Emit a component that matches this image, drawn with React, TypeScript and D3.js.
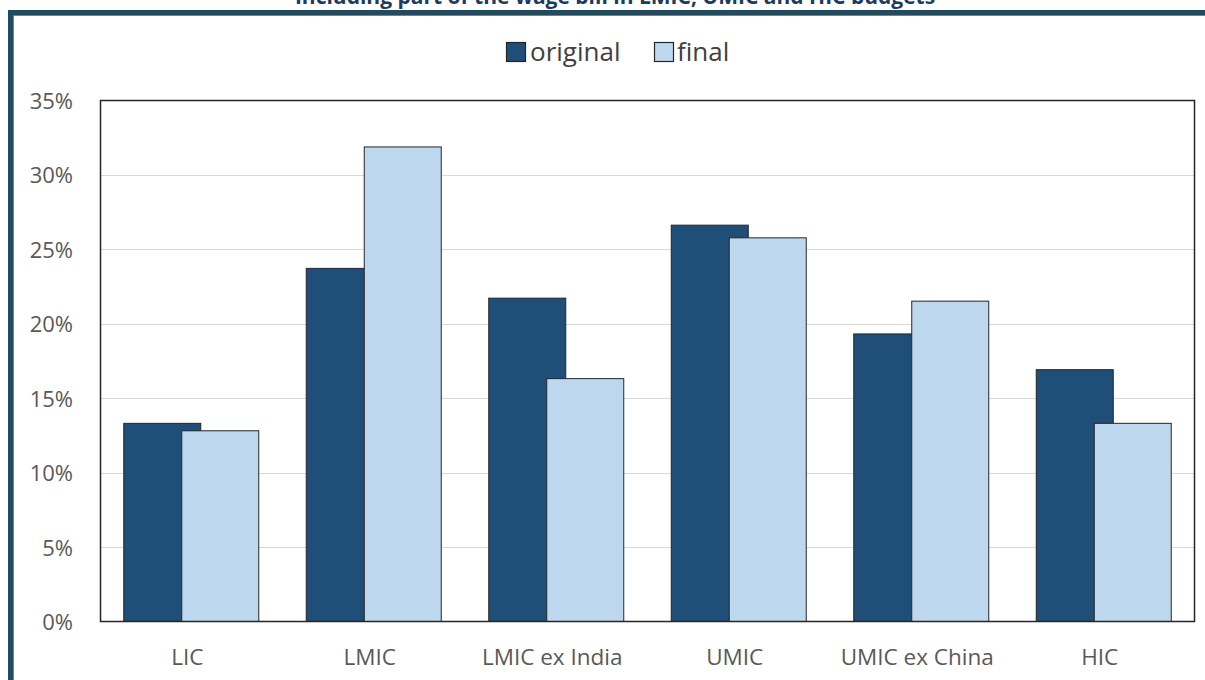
import React, { useEffect, useRef } from 'react';
import * as d3 from 'd3';

const categories = ['LIC', 'LMIC', 'LMIC ex India', 'UMIC', 'UMIC ex China', 'HIC'];
const original = [13.3, 23.7, 21.7, 26.6, 19.3, 16.9];
const final = [12.8, 31.85, 16.3, 25.75, 21.5, 13.3];
const yTicks = [0, 5, 10, 15, 20, 25, 30, 35];
const seriesNames = ['original', 'final'];
const seriesColors = ['#1f4e79', '#bdd7ee'];

const App = () => {
  const svgRef = useRef<SVGSVGElement>(null);

  useEffect(() => {
    const width = 1205;
    const height = 680;
    const margin = { top: 100, right: 10, bottom: 58, left: 100 };
    const font = "'Open Sans', 'Liberation Sans', sans-serif";

    const svg = d3.select(svgRef.current);
    svg.selectAll('*').remove();
    svg.attr('width', width).attr('height', height);

    // cadre
    svg.append('rect').attr('x', 13).attr('y', 15).attr('width', width).attr('height', height)
      .attr('fill', 'none').attr('stroke', '#7f7f7f').attr('stroke-width', 2);
    svg.append('rect').attr('x', 10.5).attr('y', 12.5).attr('width', width).attr('height', height)
      .attr('fill', 'none').attr('stroke', '#1e4d63').attr('stroke-width', 5);

    // titre (coupé en haut, comme la référence)
    svg.append('text')
      .attr('x', 615).attr('y', 4)
      .attr('text-anchor', 'middle')
      .attr('font-family', font).attr('font-weight', 'bold').attr('font-size', 21)
      .attr('fill', '#1e3a5f')
      .text('Including part of the wage bill in LMIC, UMIC and HIC budgets');

    const x0 = margin.left;
    const x1 = width - margin.right;
    const yBottom = height - margin.bottom;

    const x = d3.scaleBand().domain(categories).range([x0, x1]);
    const y = d3.scaleLinear().domain([0, 35]).range([yBottom - 0.5, margin.top]);

    // grille
    svg.append('g').selectAll('line').data(yTicks.slice(1, -1)).enter().append('line')
      .attr('x1', x0).attr('x2', x1)
      .attr('y1', d => Math.round(y(d)) + 0.5).attr('y2', d => Math.round(y(d)) + 0.5)
      .attr('stroke', '#d9d9d9').attr('stroke-width', 1);

    svg.append('g').selectAll('text').data(yTicks).enter().append('text')
      .attr('x', 73).attr('y', d => y(d) + 8.5)
      .attr('text-anchor', 'end')
      .attr('font-family', font).attr('font-size', 22).attr('fill', '#595959')
      .text(d => `${d}%`);

    // barres
    const barW = 77;
    const offset = 58;
    const series = [original, final];
    series.forEach((vals, s) => {
      svg.append('g').selectAll('rect').data(vals).enter().append('rect')
        .attr('x', (d, i) => (x(categories[i]) as number) + x.bandwidth() / 2 - (barW + offset) / 2 + s * offset)
        .attr('y', d => y(d))
        .attr('width', barW)
        .attr('height', d => y(0) - y(d))
        .attr('fill', seriesColors[s])
        .attr('stroke', '#262626').attr('stroke-width', 1);
    });

    // bord du graphique
    svg.append('rect').attr('x', x0 + 0.5).attr('y', margin.top + 0.5)
      .attr('width', x1 - x0 - 1).attr('height', yBottom - margin.top - 1)
      .attr('fill', 'none').attr('stroke', '#262626').attr('stroke-width', 1.5);

    // catégories
    svg.append('g').selectAll('text').data(categories).enter().append('text')
      .attr('x', d => (x(d) as number) + x.bandwidth() / 2 - 4)
      .attr('y', 665)
      .attr('text-anchor', 'middle')
      .attr('font-family', font).attr('font-size', 22.5).attr('fill', '#595959')
      .text(d => d);

    // légende
    const legend = svg.append('g');
    const items = [{ x: 506, tx: 530 }, { x: 654, tx: 677 }];
    seriesNames.forEach((name, i) => {
      legend.append('rect').attr('x', items[i].x + 0.5).attr('y', 42.5).attr('width', 19).attr('height', 19)
        .attr('fill', seriesColors[i]).attr('stroke', '#262626').attr('stroke-width', 1.2);
      legend.append('text').attr('x', items[i].tx).attr('y', 61)
        .attr('font-family', font).attr('font-size', 26).attr('fill', '#404040')
        .text(name);
    });
  }, []);

  return <svg ref={svgRef} style={{ position: 'absolute', left: 0, top: 0 }}></svg>;
};

export default App;
